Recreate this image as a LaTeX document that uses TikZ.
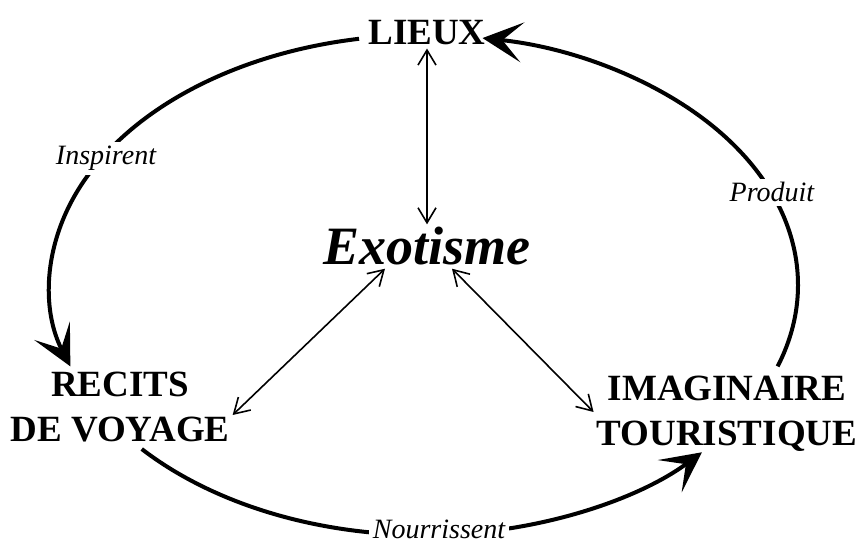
\documentclass[tikz,border=0pt]{standalone}
\usepackage{fontspec}
\setmainfont{Liberation Serif}
\usetikzlibrary{calc, arrows.meta}

\begin{document}
\begin{tikzpicture}[x=1pt, y=-1pt,
  big/.style={font=\fontsize{37}{45}\selectfont\bfseries, align=center, inner sep=3pt},
  verb/.style={font=\fontsize{28}{32}\selectfont\itshape, fill=white, inner sep=4pt, anchor=base},
  cyc/.style={line width=4pt, -{Stealth[length=40pt, width=40pt, inset=20pt]}},
  link/.style={line width=1.6pt, {Straight Barb[length=15pt, width=18pt]}-{Straight Barb[length=15pt, width=18pt]}}]
  \useasboundingbox (0,0) rectangle (863,545);
  % ellipse
  \def\rx{374}
  \def\ry{250}
  \coordinate (C) at (424,285);
  % termes
  \node[big, anchor=base] (lieux) at (427,45) {LIEUX};
  \node[font=\fontsize{54}{60}\selectfont\bfseries\itshape, anchor=base, inner sep=3pt] (exo) at (427,265) {Exotisme};
  \node[big] (recits) at (120,407) {RECITS\\DE VOYAGE};
  \node[big] (imag) at (727,414) {IMAGINAIRE\\TOURISTIQUE};
  % cycle
  \draw[cyc] ($(C)+(-100:374 and 250)$) arc[start angle=-100, end angle=-199, x radius=\rx, y radius=\ry];
  \draw[cyc] ($(C)+(139:374 and 250)$) arc[start angle=139, end angle=42, x radius=\rx, y radius=\ry];
  \draw[cyc] ($(C)+(19:374 and 250)$) arc[start angle=19, end angle=-81, x radius=\rx, y radius=\ry];
  % verbes
  \node[verb] (insp) at (106,165) {Inspirent};
  \node[verb] (prod) at (772,202) {Produit};
  \node[verb] (nour) at (439,538) {Nourrissent};
  % liens
  \draw[link] (lieux) -- (exo);
  \draw[link] ([xshift=-42pt]exo.south) -- ([yshift=-8pt]recits.east);
  \draw[link] ([xshift=25pt]exo.south) -- ([yshift=2pt]imag.west);
\end{tikzpicture}
\end{document}
